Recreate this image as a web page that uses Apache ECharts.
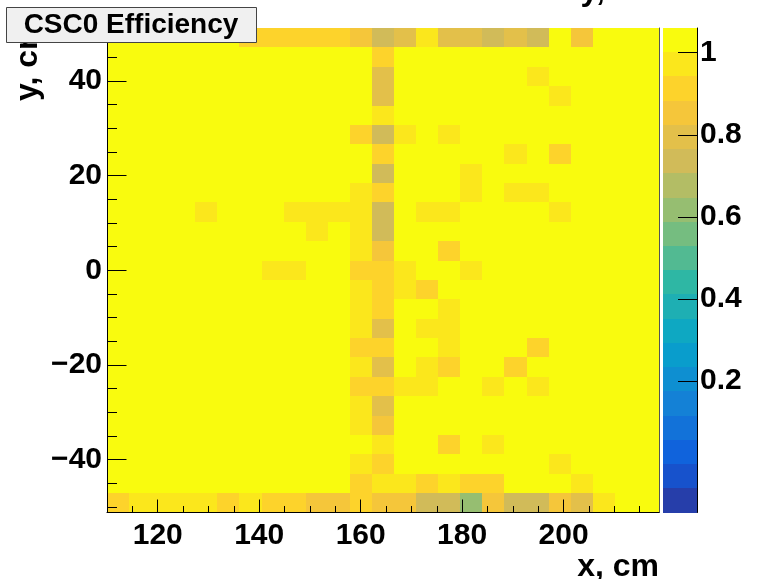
<!DOCTYPE html>
<html>
<head>
<meta charset="utf-8">
<script src="https://cdn.jsdelivr.net/npm/echarts@6/dist/echarts.min.js"></script>
<style>
  html, body { margin: 0; padding: 0; background: #ffffff; }
  #chart { width: 757px; height: 579px; }
</style>
</head>
<body>
<div id="chart"></div>
<script>
// Binning of the 2D efficiency map (cm)
const xRange = [110, 218.8];
const yRange = [-51.2, 51.2];
const nBinsX = 25;
const nBinsY = 25;

// Colour scale range and number of contour levels
const zRange = [-0.12, 1.06];
const nLevels = 20;

// Tick labels and minor tick positions
const xTickLabels = [120, 140, 160, 180, 200];
const yTickLabels = [-40, -20, 0, 20, 40];
const zTickLabels = [0.2, 0.4, 0.6, 0.8, 1];
const xMinorTicks = [115, 125, 130, 135, 145, 150, 155, 165, 170, 175, 185, 190, 195, 205, 210, 215];
const yMinorTicks = [-50, -45, -35, -30, -25, -15, -10, -5, 5, 10, 15, 25, 30, 35, 45, 50];

// Efficiency per bin, one array per y row (r00 = lowest y), x increasing left to right
const r00 = [0.91, 0.97, 0.97, 0.97, 0.97, 0.91, 0.97, 0.91, 0.91, 0.855, 0.855, 0.91, 0.855, 0.855, 0.735, 0.735, 0.62, 0.855, 0.735, 0.735, 0.855, 0.795, 0.97, 1.03, 1.03];
const r01 = [1.03, 1.03, 1.03, 1.03, 1.03, 1.03, 1.03, 1.03, 1.03, 1.03, 1.03, 0.91, 0.97, 0.97, 0.91, 0.97, 0.91, 0.91, 1.03, 1.03, 1.03, 0.97, 1.03, 1.03, 1.03];
const r02 = [1.03, 1.03, 1.03, 1.03, 1.03, 1.03, 1.03, 1.03, 1.03, 1.03, 1.03, 0.97, 0.91, 1.03, 1.03, 1.03, 1.03, 1.03, 1.03, 1.03, 0.97, 1.03, 1.03, 1.03, 1.03];
const r03 = [1.03, 1.03, 1.03, 1.03, 1.03, 1.03, 1.03, 1.03, 1.03, 1.03, 1.03, 1.03, 0.97, 1.03, 1.03, 0.91, 1.03, 0.97, 1.03, 1.03, 1.03, 1.03, 1.03, 1.03, 1.03];
const r04 = [1.03, 1.03, 1.03, 1.03, 1.03, 1.03, 1.03, 1.03, 1.03, 1.03, 1.03, 0.97, 0.855, 1.03, 1.03, 1.03, 1.03, 1.03, 1.03, 1.03, 1.03, 1.03, 1.03, 1.03, 1.03];
const r05 = [1.03, 1.03, 1.03, 1.03, 1.03, 1.03, 1.03, 1.03, 1.03, 1.03, 1.03, 0.97, 0.795, 1.03, 1.03, 1.03, 1.03, 1.03, 1.03, 1.03, 1.03, 1.03, 1.03, 1.03, 1.03];
const r06 = [1.03, 1.03, 1.03, 1.03, 1.03, 1.03, 1.03, 1.03, 1.03, 1.03, 1.03, 0.91, 0.91, 0.97, 0.97, 1.03, 1.03, 0.97, 1.03, 0.97, 1.03, 1.03, 1.03, 1.03, 1.03];
const r07 = [1.03, 1.03, 1.03, 1.03, 1.03, 1.03, 1.03, 1.03, 1.03, 1.03, 1.03, 0.97, 0.795, 1.03, 0.97, 0.91, 1.03, 1.03, 0.91, 1.03, 1.03, 1.03, 1.03, 1.03, 1.03];
const r08 = [1.03, 1.03, 1.03, 1.03, 1.03, 1.03, 1.03, 1.03, 1.03, 1.03, 1.03, 0.91, 0.91, 1.03, 1.03, 0.97, 1.03, 1.03, 1.03, 0.91, 1.03, 1.03, 1.03, 1.03, 1.03];
const r09 = [1.03, 1.03, 1.03, 1.03, 1.03, 1.03, 1.03, 1.03, 1.03, 1.03, 1.03, 0.97, 0.795, 1.03, 0.97, 0.97, 1.03, 1.03, 1.03, 1.03, 1.03, 1.03, 1.03, 1.03, 1.03];
const r10 = [1.03, 1.03, 1.03, 1.03, 1.03, 1.03, 1.03, 1.03, 1.03, 1.03, 1.03, 0.97, 0.91, 1.03, 1.03, 0.97, 1.03, 1.03, 1.03, 1.03, 1.03, 1.03, 1.03, 1.03, 1.03];
const r11 = [1.03, 1.03, 1.03, 1.03, 1.03, 1.03, 1.03, 1.03, 1.03, 1.03, 1.03, 0.97, 0.91, 0.97, 0.91, 1.03, 1.03, 1.03, 1.03, 1.03, 1.03, 1.03, 1.03, 1.03, 1.03];
const r12 = [1.03, 1.03, 1.03, 1.03, 1.03, 1.03, 1.03, 0.97, 0.97, 1.03, 1.03, 0.91, 0.91, 0.97, 1.03, 1.03, 0.97, 1.03, 1.03, 1.03, 1.03, 1.03, 1.03, 1.03, 1.03];
const r13 = [1.03, 1.03, 1.03, 1.03, 1.03, 1.03, 1.03, 1.03, 1.03, 1.03, 1.03, 0.97, 0.855, 1.03, 1.03, 0.91, 1.03, 1.03, 1.03, 1.03, 1.03, 1.03, 1.03, 1.03, 1.03];
const r14 = [1.03, 1.03, 1.03, 1.03, 1.03, 1.03, 1.03, 1.03, 1.03, 0.97, 1.03, 0.97, 0.735, 1.03, 1.03, 1.03, 1.03, 1.03, 1.03, 1.03, 1.03, 1.03, 1.03, 1.03, 1.03];
const r15 = [1.03, 1.03, 1.03, 1.03, 0.97, 1.03, 1.03, 1.03, 0.97, 0.97, 0.97, 0.97, 0.735, 1.03, 0.97, 0.97, 1.03, 1.03, 1.03, 1.03, 0.97, 1.03, 1.03, 1.03, 1.03];
const r16 = [1.03, 1.03, 1.03, 1.03, 1.03, 1.03, 1.03, 1.03, 1.03, 1.03, 1.03, 0.97, 0.91, 1.03, 1.03, 1.03, 0.97, 1.03, 0.97, 0.97, 1.03, 1.03, 1.03, 1.03, 1.03];
const r17 = [1.03, 1.03, 1.03, 1.03, 1.03, 1.03, 1.03, 1.03, 1.03, 1.03, 1.03, 1.03, 0.735, 1.03, 1.03, 1.03, 0.97, 1.03, 1.03, 1.03, 1.03, 1.03, 1.03, 1.03, 1.03];
const r18 = [1.03, 1.03, 1.03, 1.03, 1.03, 1.03, 1.03, 1.03, 1.03, 1.03, 1.03, 1.03, 0.91, 1.03, 1.03, 1.03, 1.03, 1.03, 0.97, 1.03, 0.91, 1.03, 1.03, 1.03, 1.03];
const r19 = [1.03, 1.03, 1.03, 1.03, 1.03, 1.03, 1.03, 1.03, 1.03, 1.03, 1.03, 0.91, 0.735, 0.97, 1.03, 0.97, 1.03, 1.03, 1.03, 1.03, 1.03, 1.03, 1.03, 1.03, 1.03];
const r20 = [1.03, 1.03, 1.03, 1.03, 1.03, 1.03, 1.03, 1.03, 1.03, 1.03, 1.03, 1.03, 0.97, 1.03, 1.03, 1.03, 1.03, 1.03, 1.03, 1.03, 1.03, 1.03, 1.03, 1.03, 1.03];
const r21 = [1.03, 1.03, 1.03, 1.03, 1.03, 1.03, 1.03, 1.03, 1.03, 1.03, 1.03, 1.03, 0.795, 1.03, 1.03, 1.03, 1.03, 1.03, 1.03, 1.03, 0.97, 1.03, 1.03, 1.03, 1.03];
const r22 = [1.03, 1.03, 1.03, 1.03, 1.03, 1.03, 1.03, 1.03, 1.03, 1.03, 1.03, 1.03, 0.795, 1.03, 1.03, 1.03, 1.03, 1.03, 1.03, 0.97, 1.03, 1.03, 1.03, 1.03, 1.03];
const r23 = [1.03, 1.03, 1.03, 1.03, 1.03, 1.03, 1.03, 1.03, 1.03, 1.03, 1.03, 1.03, 0.91, 1.03, 1.03, 1.03, 1.03, 1.03, 1.03, 1.03, 1.03, 1.03, 1.03, 1.03, 1.03];
const r24 = [1.03, 1.03, 1.03, 1.03, 1.03, 1.03, 0.91, 0.91, 0.91, 0.91, 0.91, 0.855, 0.735, 0.795, 0.97, 0.795, 0.795, 0.735, 0.795, 0.735, 1.03, 0.855, 1.03, 1.03, 1.03];
const rows = [r00, r01, r02, r03, r04, r05, r06, r07, r08, r09, r10, r11, r12,
              r13, r14, r15, r16, r17, r18, r19, r20, r21, r22, r23, r24];

// ROOT "bird" palette stops
const birdStops = [0.0, 0.125, 0.25, 0.375, 0.5, 0.625, 0.75, 0.875, 1.0];
const birdR = [0.2082, 0.0592, 0.0780, 0.0232, 0.1802, 0.5301, 0.8186, 0.9956, 0.9764];
const birdG = [0.1664, 0.3599, 0.5041, 0.6419, 0.7178, 0.7492, 0.7328, 0.7862, 0.9832];
const birdB = [0.5293, 0.8684, 0.8385, 0.7914, 0.6425, 0.4662, 0.3499, 0.1968, 0.0539];

function birdColor(p) {
  p = Math.max(0, Math.min(1, p));
  let s = 0;
  while (s < birdStops.length - 2 && p > birdStops[s + 1]) s++;
  const t = (p - birdStops[s]) / (birdStops[s + 1] - birdStops[s]);
  const c = (arr) => Math.round(255 * (arr[s] + t * (arr[s + 1] - arr[s])));
  return 'rgb(' + c(birdR) + ',' + c(birdG) + ',' + c(birdB) + ')';
}

const dz = (zRange[1] - zRange[0]) / nLevels;
const levelPieces = [];
const levelBands = [];
for (let k = 0; k < nLevels; k++) {
  const lo = zRange[0] + k * dz;
  const hi = lo + dz;
  levelPieces.push({ gte: lo, lt: hi + (k === nLevels - 1 ? 1 : 0), color: birdColor((k + 1) / nLevels) });
  levelBands.push([lo, hi, (lo + hi) / 2]);
}

const bwX = (xRange[1] - xRange[0]) / nBinsX;
const bwY = (yRange[1] - yRange[0]) / nBinsY;
const cells = [];
rows.forEach((row, j) => {
  row.forEach((v, i) => {
    cells.push([xRange[0] + (i + 0.5) * bwX, yRange[0] + (j + 0.5) * bwY, v]);
  });
});

function snapRect(p0, p1) {
  const l = Math.round(p0[0]), t = Math.round(p0[1]);
  const r = Math.round(p1[0]), b = Math.round(p1[1]);
  return { x: l, y: t, width: r - l, height: b - t };
}

function renderCell(params, api) {
  const xc = api.value(0), yc = api.value(1);
  const p0 = api.coord([xc - bwX / 2, yc + bwY / 2]);
  const p1 = api.coord([xc + bwX / 2, yc - bwY / 2]);
  return { type: 'rect', shape: snapRect(p0, p1), style: { fill: api.visual('color') } };
}

function renderBand(params, api) {
  const lo = api.value(0), hi = api.value(1);
  const p0 = api.coord([0, hi]);
  const p1 = api.coord([1, lo]);
  return { type: 'rect', shape: snapRect(p0, p1), style: { fill: api.visual('color') } };
}

const FONT = "'Liberation Sans', Arial, Helvetica, sans-serif";
const labelStyle = { color: '#000', fontFamily: FONT, fontWeight: 'bold', fontSize: 30 };

const chart = echarts.init(document.getElementById('chart'), null, { renderer: 'canvas' });
chart.setOption({
  animation: false,
  backgroundColor: '#ffffff',
  grid: [
    { left: 107, top: 28, width: 552, height: 484.5 },
    { left: 663, top: 28, width: 34, height: 484.5 }
  ],
  xAxis: [
    {
      gridIndex: 0, type: 'value', position: 'bottom', min: xRange[0], max: xRange[1], z: 10,
      axisLine: { show: true, onZero: false, lineStyle: { color: '#000', width: 1 } },
      axisTick: { show: true, inside: true, length: 13, customValues: xTickLabels, lineStyle: { color: '#000' } },
      axisLabel: Object.assign({ customValues: xTickLabels, margin: 8 }, labelStyle),
      splitLine: { show: false }
    },
    {
      gridIndex: 0, type: 'value', position: 'bottom', min: xRange[0], max: xRange[1], z: 10,
      axisLine: { show: false, onZero: false },
      axisTick: { show: true, inside: true, length: 6.5, customValues: xMinorTicks, lineStyle: { color: '#000' } },
      axisLabel: { show: false },
      splitLine: { show: false }
    },
    {
      gridIndex: 1, type: 'value', min: 0, max: 1, show: false
    }
  ],
  yAxis: [
    {
      gridIndex: 0, type: 'value', position: 'left', min: yRange[0], max: yRange[1], z: 10,
      axisLine: { show: true, onZero: false, lineStyle: { color: '#000', width: 1 } },
      axisTick: { show: true, inside: true, length: 19.5, customValues: yTickLabels, lineStyle: { color: '#000' } },
      axisLabel: Object.assign({
        customValues: yTickLabels, margin: 5,
        formatter: (v) => String(v).replace('-', '\u2212')
      }, labelStyle),
      splitLine: { show: false }
    },
    {
      gridIndex: 0, type: 'value', position: 'left', min: yRange[0], max: yRange[1], z: 10,
      axisLine: { show: false, onZero: false },
      axisTick: { show: true, inside: true, length: 10, customValues: yMinorTicks, lineStyle: { color: '#000' } },
      axisLabel: { show: false },
      splitLine: { show: false }
    },
    {
      gridIndex: 0, type: 'value', position: 'right', min: yRange[0], max: yRange[1], z: 10,
      axisLine: { show: true, onZero: false, lineStyle: { color: '#555', width: 1 } },
      axisTick: { show: false }, axisLabel: { show: false }, splitLine: { show: false }
    },
    {
      gridIndex: 1, type: 'value', position: 'right', min: zRange[0], max: zRange[1], z: 10,
      axisLine: { show: true, onZero: false, lineStyle: { color: '#000', width: 1 } },
      axisTick: { show: true, inside: true, length: 19, customValues: zTickLabels, lineStyle: { color: '#000' } },
      axisLabel: Object.assign({ customValues: zTickLabels, margin: 3 }, labelStyle),
      splitLine: { show: false }
    }
  ],
  visualMap: {
    type: 'piecewise', show: false, dimension: 2, seriesIndex: [0, 1],
    pieces: levelPieces
  },
  series: [
    {
      type: 'custom', xAxisIndex: 0, yAxisIndex: 0, renderItem: renderCell,
      data: cells, clip: true, silent: true
    },
    {
      type: 'custom', xAxisIndex: 2, yAxisIndex: 3, renderItem: renderBand,
      data: levelBands, silent: true
    }
  ],
  graphic: [
    {
      type: 'text', z: 50, x: 659, y: 567,
      style: { text: 'x, cm', fill: '#000', font: "bold 32px " + FONT,
               textAlign: 'right', textVerticalAlign: 'middle' }
    },
    {
      // colour-axis title, mostly above the top edge of the canvas
      type: 'text', z: 50, x: 660, y: -9,
      style: { text: 'y, cm', fill: '#000', font: "bold 32px " + FONT,
               textAlign: 'right', textVerticalAlign: 'middle' }
    },
    {
      type: 'text', z: 50, x: 28, y: 101, rotation: Math.PI / 2,
      style: { text: 'y, cm', fill: '#000', font: "bold 32px " + FONT,
               textAlign: 'left', textVerticalAlign: 'middle' }
    },
    {
      type: 'rect', z: 100, shape: { x: 6.5, y: 7.5, width: 250, height: 35 },
      style: { fill: '#f0f0f0', stroke: '#444', lineWidth: 1 }
    },
    {
      type: 'text', z: 101, x: 131, y: 25.5,
      style: { text: 'CSC0 Efficiency', fill: '#000', font: "bold 28px " + FONT,
               textAlign: 'center', textVerticalAlign: 'middle' }
    }
  ]
});
</script>
</body>
</html>
